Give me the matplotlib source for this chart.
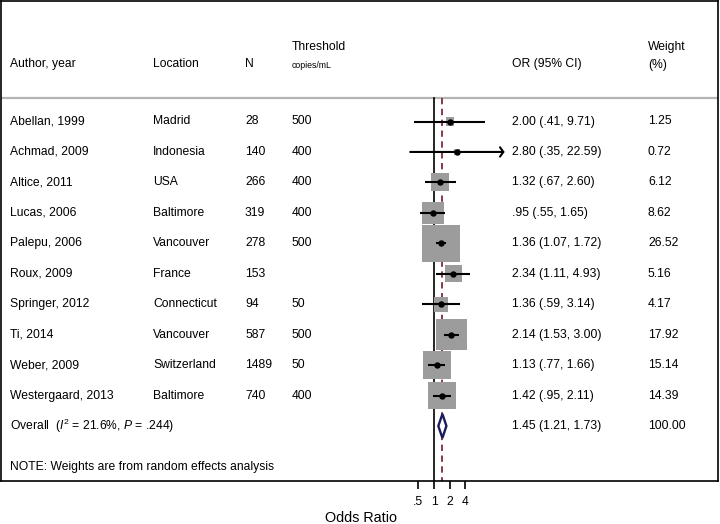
import matplotlib
matplotlib.use('Agg')
import matplotlib.pyplot as plt
import numpy as np
from matplotlib.transforms import blended_transform_factory
from matplotlib.patches import Polygon

plt.rcParams['font.family'] = ['Liberation Sans', 'DejaVu Sans']
plt.rcParams['mathtext.fontset'] = 'custom'
plt.rcParams['mathtext.rm'] = 'Liberation Sans'
plt.rcParams['mathtext.it'] = 'Liberation Sans:italic'

# ---------------- data ----------------
authors = ['Abellan, 1999', 'Achmad, 2009', 'Altice, 2011', 'Lucas, 2006', 'Palepu, 2006',
           'Roux, 2009', 'Springer, 2012', 'Ti, 2014', 'Weber, 2009', 'Westergaard, 2013']
locations = ['Madrid', 'Indonesia', 'USA', 'Baltimore', 'Vancouver',
             'France', 'Connecticut', 'Vancouver', 'Switzerland', 'Baltimore']
n_vals = [28, 140, 266, 319, 278, 153, 94, 587, 1489, 740]
thresholds = ['500', '400', '400', '400', '500', '', '50', '500', '50', '400']
or_vals = [2.00, 2.80, 1.32, 0.95, 1.36, 2.34, 1.36, 2.14, 1.13, 1.42]
ci_low = [0.41, 0.35, 0.67, 0.55, 1.07, 1.11, 0.59, 1.53, 0.77, 0.95]
ci_high = [9.71, 22.59, 2.60, 1.65, 1.72, 4.93, 3.14, 3.00, 1.66, 2.11]
weights = [1.25, 0.72, 6.12, 8.62, 26.52, 5.16, 4.17, 17.92, 15.14, 14.39]
overall_or, overall_low, overall_high, overall_weight = 1.45, 1.21, 1.73, 100.00
arrow_rows = [1]  # CI drawn with arrow (truncated)
x_ticks = [0.5, 1, 2, 4]
x_tick_labels = ['.5', '1', '2', '4']

# ---------------- layout helpers ----------------
W, H = 720, 524
fig = plt.figure(figsize=(W / 100, H / 100), dpi=100)
ax_left, ax_right, ax_top, ax_bottom = 1, 718, 1, 481
ax = fig.add_axes([ax_left / W, 1 - ax_bottom / H, (ax_right - ax_left) / W, (ax_bottom - ax_top) / H])

row0_px, row_step = 121.5, 30.45
def row(py):
    return (py - row0_px) / row_step

px_per_doubling = 15.7
one_px = 434.0
ax.set_xscale('log', base=2)
ax.set_xlim(2 ** ((ax_left - one_px) / px_per_doubling), 2 ** ((ax_right - one_px) / px_per_doubling))
ax.set_ylim(row(ax_bottom), row(ax_top))

FS = 8.7
n = len(authors)
ys = np.arange(n)
overall_y = n

# reference lines
header_y = row(98)
ax.axhline(header_y, color='#b4b4b4', lw=1.6, zorder=1)
ax.plot([1, 1], [header_y, row(ax_bottom)], color='black', lw=1.2, zorder=2)
ax.plot([overall_or, overall_or], [header_y, row(ax_bottom)], color='#7e2a36', lw=1.3,
        dashes=(3.5, 2.5), zorder=2)

# boxes
max_side_px = 37.5
sides_px = max_side_px * np.sqrt(np.array(weights) / max(weights))
ax.scatter(or_vals, ys, s=(sides_px * 0.72) ** 2, marker='s', color='#9c9c9c',
           edgecolors='none', zorder=3)

# CIs
for i in range(n):
    if i in arrow_rows:
        ax.annotate('', xy=(ci_high[i], ys[i]), xytext=(ci_low[i], ys[i]),
                    arrowprops=dict(arrowstyle='->, head_length=0.3, head_width=0.42', lw=1.5,
                                    color='black', shrinkA=0, shrinkB=0, mutation_scale=8),
                    zorder=4)
    else:
        ax.plot([ci_low[i], ci_high[i]], [ys[i], ys[i]], color='black', lw=1.5,
                solid_capstyle='butt', zorder=4)
ax.plot(or_vals, ys, 'o', color='black', ms=3.6, zorder=5)

# overall diamond
half_h = 12 / row_step
diamond = Polygon([(overall_low, overall_y), (overall_or, overall_y - half_h),
                   (overall_high, overall_y), (overall_or, overall_y + half_h)],
                  closed=True, facecolor='white', edgecolor='#1c1c5c', lw=1.7, zorder=5)
ax.add_patch(diamond)

# axes style
for s in ax.spines.values():
    s.set_linewidth(1.2)
ax.set_yticks([])
ax.xaxis.set_minor_locator(matplotlib.ticker.NullLocator())
ax.set_xticks(x_ticks)
ax.set_xticklabels(x_tick_labels, fontsize=FS)
ax.tick_params(axis='x', direction='out', length=6, width=1.2, pad=4.5, top=False)

# text columns
tr = blended_transform_factory(fig.transFigure, ax.transData)
col_author, col_loc, col_n, col_thr, col_or, col_w = 10, 153, 245, 292, 512, 648

def fmt(v):
    s = f'{v:.2f}'
    return s[1:] if s.startswith('0') else s

for i in range(n):
    y = ys[i]
    ax.text(col_author / W, y, authors[i], transform=tr, fontsize=FS, va='center', ha='left')
    ax.text(col_loc / W, y, locations[i], transform=tr, fontsize=FS, va='center', ha='left')
    ax.text(col_n / W, y, str(n_vals[i]), transform=tr, fontsize=FS, va='center', ha='left')
    ax.text(col_thr / W, y, thresholds[i], transform=tr, fontsize=FS, va='center', ha='left')
    ax.text(col_or / W, y, f'{fmt(or_vals[i])} ({fmt(ci_low[i])}, {fmt(ci_high[i])})',
            transform=tr, fontsize=FS, va='center', ha='left')
    ax.text(col_w / W, y, f'{weights[i]:.2f}', transform=tr, fontsize=FS, va='center', ha='left')

ax.text(col_author / W, overall_y, r'Overall  ($\it{I}^2$ = 21.6%, $\it{P}$ = .244)', transform=tr,
        fontsize=FS, va='center', ha='left')
ax.text(col_or / W, overall_y, f'{fmt(overall_or)} ({fmt(overall_low)}, {fmt(overall_high)})',
        transform=tr, fontsize=FS, va='center', ha='left')
ax.text(col_w / W, overall_y, f'{overall_weight:.2f}', transform=tr, fontsize=FS, va='center', ha='left')
ax.text(col_author / W, row(467), 'NOTE: Weights are from random effects analysis', transform=tr,
        fontsize=FS, va='center', ha='left')

# headers
def ftext(px, py, s, **kw):
    fig.text(px / W, 1 - py / H, s, va='center', ha='left', **kw)

ftext(col_author, 64, 'Author, year', fontsize=FS)
ftext(col_loc, 64, 'Location', fontsize=FS)
ftext(col_n, 64, 'N', fontsize=FS)
ftext(col_thr, 47, 'Threshold', fontsize=FS)
ftext(col_thr, 66, 'copies/mL', fontsize=6.3)
ftext(col_or, 64, 'OR (95% CI)', fontsize=FS)
ftext(col_w, 47, 'Weight', fontsize=FS)
ftext(col_w, 65, '(%)', fontsize=FS)

fig.text(361 / W, 1 - 518 / H, 'Odds Ratio', fontsize=10.4, ha='center', va='center')

fig.savefig('out.png', dpi=100)
